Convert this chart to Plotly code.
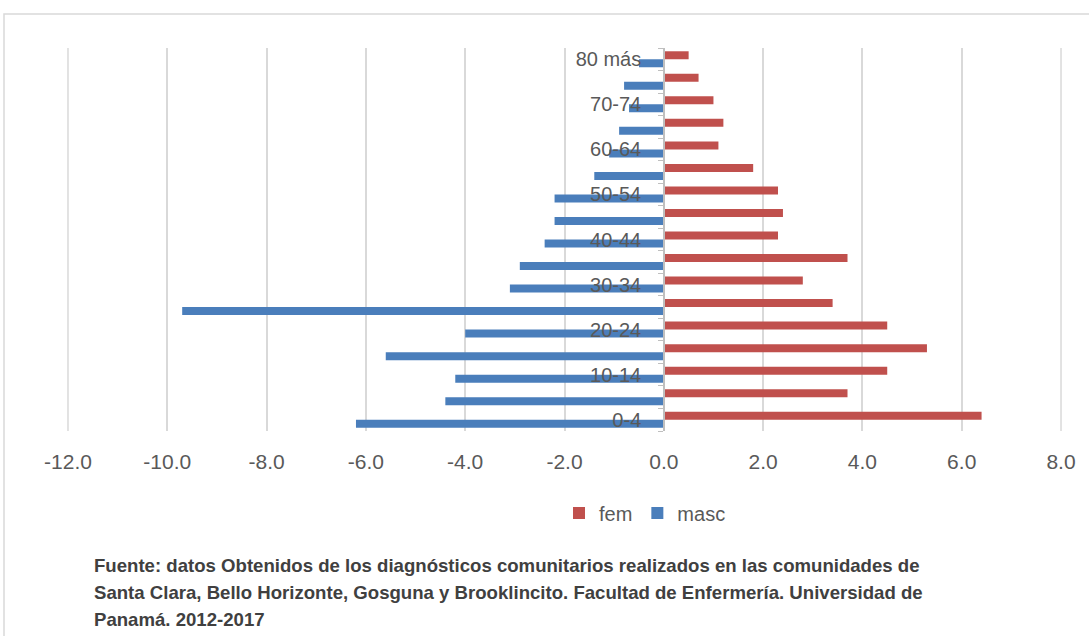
import plotly.graph_objects as go

categories = ["0-4", "5-9", "10-14", "15-19", "20-24", "25-29", "30-34", "35-39",
              "40-44", "45-49", "50-54", "55-59", "60-64", "65-69", "70-74", "75-79", "80 más"]
fem = [6.4, 3.7, 4.5, 5.3, 4.5, 3.4, 2.8, 3.7, 2.3, 2.4, 2.3, 1.8, 1.1, 1.2, 1.0, 0.7, 0.5]
masc = [-6.2, -4.4, -4.2, -5.6, -4.0, -9.7, -3.1, -2.9, -2.4, -2.2, -2.2, -1.4, -1.1, -0.9, -0.7, -0.8, -0.5]
x_tick_vals = [-12, -10, -8, -6, -4, -2, 0, 2, 4, 6, 8]
x_tick_text = ["-12.0", "-10.0", "-8.0", "-6.0", "-4.0", "-2.0", "0.0", "2.0", "4.0", "6.0", "8.0"]
y_tick_text = [c if i % 2 == 0 else "" for i, c in enumerate(categories)]
footer = [
    "Fuente: datos Obtenidos de los diagnósticos comunitarios realizados en las comunidades de",
    "Santa Clara, Bello Horizonte, Gosguna y Brooklincito. Facultad de Enfermería. Universidad de",
    "Panamá. 2012-2017",
]

W, H = 1089, 636
L, R, T, B = 67, 27, 48, 205
pw, ph = W - L - R, H - T - B


def fx(px):
    return (px - L) / pw


def fy(py):
    return (H - B - py) / ph


fig = go.Figure()
fig.add_trace(go.Bar(y=categories, x=masc, orientation="h", name="masc",
                     marker=dict(color="#4A7EBB", line=dict(width=0))))
fig.add_trace(go.Bar(y=categories, x=fem, orientation="h", name="fem",
                     marker=dict(color="#C0504D", line=dict(width=0))))

font_main = "Liberation Sans, Arial, sans-serif"

fig.update_layout(
    width=W, height=H,
    margin=dict(l=L, r=R, t=T, b=B),
    paper_bgcolor="white", plot_bgcolor="white",
    barmode="group", bargap=0.29, bargroupgap=0,
    font=dict(family=font_main, color="#595959", size=20),
    showlegend=True,
    legend=dict(orientation="h", traceorder="reversed",
                x=fx(645), y=fy(513), xanchor="center", yanchor="middle",
                font=dict(size=20, color="#595959"), itemwidth=30,
                bgcolor="rgba(0,0,0,0)"),
    xaxis=dict(range=[-12.02, 8.02], tickvals=x_tick_vals, ticktext=x_tick_text,
               showgrid=True, gridcolor="#D9D9D9", gridwidth=1.5,
               zeroline=False, showline=False, ticks="",
               ticklabelstandoff=16, tickfont=dict(size=21, color="#595959")),
    yaxis=dict(type="category", categoryorder="array", categoryarray=categories,
               range=[-0.5, 16.5], tickvals=categories, ticktext=y_tick_text,
               anchor="free", position=fx(664), showgrid=False,
               showline=True, linecolor="#BFBFBF", linewidth=1.5,
               ticks="outside", ticklen=5, tickcolor="#BFBFBF", tickson="boundaries",
               ticklabelstandoff=18, tickfont=dict(size=20, color="#595959")),
)

# edge gridlines (at -12 and 8)
for xv in (x_tick_vals[0], x_tick_vals[-1]):
    fig.add_shape(type="line", xref="x", yref="paper", x0=xv, x1=xv, y0=0, y1=1,
                  line=dict(color="#D9D9D9", width=1.5), layer="below")

fig.add_shape(type="rect", xref="paper", yref="paper",
              x0=fx(4), x1=fx(1100), y0=fy(700), y1=fy(14),
              line=dict(color="#D9D9D9", width=1.5), fillcolor="rgba(0,0,0,0)", layer="below")

for i, (txt, py) in enumerate(zip(footer, [565, 592, 619])):
    fig.add_annotation(text="<b>" + txt + "</b>", xref="paper", yref="paper",
                       x=fx(92), y=fy(py), xanchor="left", yanchor="middle",
                       showarrow=False, font=dict(size=18.6, color="#404040", family=font_main))

fig.write_html("out.html", config={"displayModeBar": False},
               post_script="document.body.style.margin='0';document.body.style.overflow='hidden';")
